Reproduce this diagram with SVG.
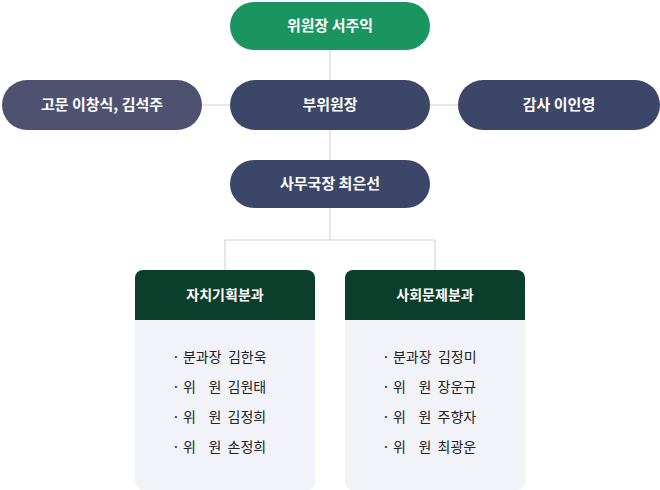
<svg xmlns="http://www.w3.org/2000/svg" width="660" height="490" viewBox="0 0 660 490">
<style>
text{font-family:"Noto Sans CJK KR",sans-serif}
.p{fill:#3c4668}
.pt{fill:#fff;font-size:15px;font-weight:bold;text-anchor:middle}
.ht{fill:#fff;font-size:14px;font-weight:bold;text-anchor:middle}
.it{fill:#222;font-size:14px;white-space:pre}
.c{stroke:#cfcfcf;stroke-width:1;fill:none}
</style>
<g id="connectors">
<path class="c" d="M330 50V240M202 105H230M430 105H458M225 270V240H435V270"/>
</g>
<g id="chair"><rect x="230" y="2" width="200" height="48" rx="24" fill="#1a9461"/><text class="pt" x="330" y="31">위원장 서주익</text></g>
<g id="advisor"><rect x="2" y="80" width="200" height="50" rx="25" fill="#4e5270"/><text class="pt" x="102" y="110" font-size="14">고문 이창식, 김석주</text></g>
<g id="vice"><rect class="p" x="230" y="80" width="200" height="50" rx="25"/><text class="pt" x="330" y="110">부위원장</text></g>
<g id="auditor"><rect class="p" x="458" y="80" width="202" height="50" rx="25"/><text class="pt" x="559" y="110">감사 이인영</text></g>
<g id="secretary"><rect class="p" x="230" y="160" width="200" height="48" rx="24"/><text class="pt" x="330" y="189">사무국장 최은선</text></g>
<g id="div1">
<rect x="135" y="270" width="180" height="220" rx="8" fill="#f1f3f9"/>
<path d="M135 320V278a8 8 0 0 1 8-8h164a8 8 0 0 1 8 8v42z" fill="#0b3f2b"/>
<text class="ht" x="225" y="300">자치기획분과</text>
<text class="it" x="172" y="362">· 분과장  김한욱</text>
<text class="it" x="172" y="392">· 위    원  김원태</text>
<text class="it" x="172" y="422">· 위    원  김정희</text>
<text class="it" x="172" y="452">· 위    원  손정희</text>
</g>
<g id="div2">
<rect x="345" y="270" width="180" height="220" rx="8" fill="#f1f3f9"/>
<path d="M345 320V278a8 8 0 0 1 8-8h164a8 8 0 0 1 8 8v42z" fill="#0b3f2b"/>
<text class="ht" x="435" y="300">사회문제분과</text>
<text class="it" x="382" y="362">· 분과장  김정미</text>
<text class="it" x="382" y="392">· 위    원  장운규</text>
<text class="it" x="382" y="422">· 위    원  주향자</text>
<text class="it" x="382" y="452">· 위    원  최광운</text>
</g>
</svg>
